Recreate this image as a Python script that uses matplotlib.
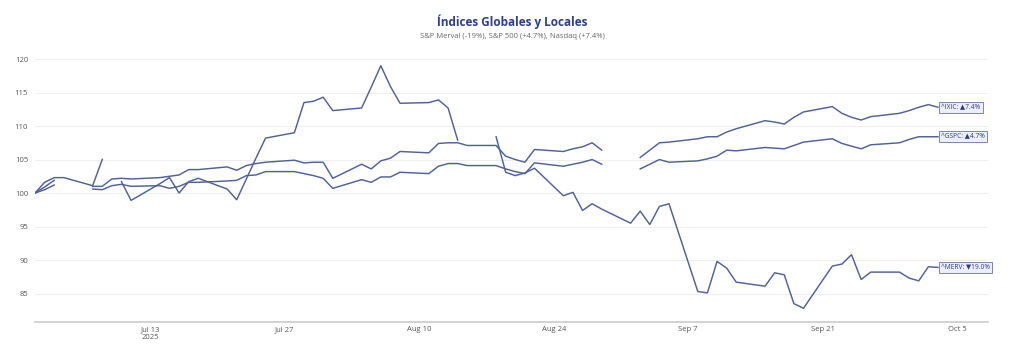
import pandas as pd
import matplotlib.pyplot as plt

plt.rcParams['font.family'] = ['Open Sans', 'DejaVu Sans']

# Daily closes rebased to 100 (weekdays Jul 1 - Oct 3, 2025), None = no trading
dates = pd.bdate_range('2025-07-01', '2025-10-03')

ixic = [100.0, 100.9, 101.9, None, 101.0, 101.0, 102.1, 102.2, 102.1, 102.3, 102.5, 102.7,
        103.5, 103.5, 103.9, 103.4, 104.1, 104.4, 104.6, 104.9, 104.5, 104.6, 104.6,
        102.2, 104.3, 103.6, 104.8, 105.2, 106.2, 106.0, 107.4, 107.5, 107.5, 107.1,
        107.1, 105.5, 105.0, 104.6, 106.5, 106.2, 106.6, 106.9, 107.5, 106.4,
        None, 105.3, 106.4, 107.5, 107.6, 108.1, 108.4, 108.4, 109.1, 109.6, 110.8,
        110.6, 110.3, 111.3, 112.1, 112.9, 111.9, 111.3, 110.9, 111.4, 111.9, 112.3,
        112.8, 113.2, 112.8]

gspc = [100.0, 100.5, 101.2, None, 100.6, 100.5, 101.1, 101.3, 101.0, 101.1, 100.7, 101.0,
        101.6, 101.6, 101.8, 101.9, 102.6, 102.7, 103.2, 103.2, 102.9, 102.6, 102.2,
        100.7, 102.0, 101.6, 102.4, 102.4, 103.1, 102.9, 104.0, 104.4, 104.4, 104.1,
        104.1, 103.6, 103.2, 102.9, 104.5, 104.0, 104.3, 104.6, 105.0, 104.3,
        None, 103.6, 104.3, 105.0, 104.6, 104.8, 105.1, 105.5, 106.4, 106.3, 106.8,
        106.7, 106.6, 107.1, 107.6, 108.1, 107.4, 107.0, 106.6, 107.2, 107.5, 108.0,
        108.4, 108.4, 108.4]

merv = [100.0, 101.6, 102.3, 102.3, 101.1, 105.0, None, 101.7, 98.9, 101.4, 102.3, 100.0,
        101.7, 102.2, 100.6, 99.0, 102.1, 105.2, 108.2, 109.0, 113.5, 113.7, 114.3,
        112.3, 112.7, 115.8, 119.0, 115.9, 113.4, 113.5, 113.9, 112.7, 107.9, None,
        108.4, 103.1, 102.6, 103.0, 103.7, 99.6, 100.1, 97.4, 98.4, 97.6,
        95.5, 97.3, 95.3, 98.0, 98.4, 85.3, 85.1, 89.8, 88.8, 86.7, 86.1,
        88.1, 87.8, 83.5, 82.8, 89.1, 89.4, 90.8, 87.1, 88.2, 88.2, 87.3,
        86.9, 89.0, 88.9]

labels = ['^IXIC: ▲7.4%', '^GSPC: ▲4.7%', '^MERV: ▼19.0%']
tick_dates = ['2025-07-13', '2025-07-27', '2025-08-10', '2025-08-24',
              '2025-09-07', '2025-09-21', '2025-10-05']
tick_labels = ['Jul 13\n2025', 'Jul 27', 'Aug 10', 'Aug 24', 'Sep 7', 'Sep 21', 'Oct 5']

df = pd.DataFrame({'ixic': ixic, 'gspc': gspc, 'merv': merv}, index=dates).astype(float)

line_color = '#4f6199'
fig = plt.figure(figsize=(10.24, 3.51), dpi=100)
ax = fig.add_axes([35 / 1024, 29.3 / 351, 953 / 1024, 0.777])

for col, lab in zip(['ixic', 'gspc', 'merv'], labels):
    ax.plot(df.index, df[col], color=line_color, lw=1.05)
    last = df[col].dropna()
    ax.annotate(lab, xy=(last.index[-1], last.iloc[-1]), xytext=(2.5, 0),
                textcoords='offset points', ha='left', va='center',
                fontsize=4.8, color='#2f3c8c',
                bbox=dict(boxstyle='square,pad=0.3', fc='#eceef9', ec='#6674ad', lw=0.6))

ax.set_xlim(pd.Timestamp('2025-07-01'), pd.Timestamp('2025-10-08 05:00'))
ax.set_ylim(80.8, 121.5)
ax.set_yticks([85, 90, 95, 100, 105, 110, 115, 120])
ax.set_xticks(pd.to_datetime(tick_dates))
ax.set_xticklabels(tick_labels, linespacing=1.3)
ax.tick_params(axis='both', length=0, labelsize=5.5, labelcolor='#555555')
ax.tick_params(axis='y', pad=5)
ax.tick_params(axis='x', pad=3)
ax.grid(axis='y', color='#eeeeee', lw=0.7)
ax.set_axisbelow(True)
for s in ['top', 'right', 'left']:
    ax.spines[s].set_visible(False)
ax.spines['bottom'].set_color('#cfcfcf')
ax.spines['bottom'].set_linewidth(1.3)

fig.text(0.5, 1 - 22 / 351, 'Índices Globales y Locales', ha='center', va='center',
         fontsize=8.5, fontweight='bold', color='#2c3e8c')
fig.text(0.5, 1 - 37 / 351, 'S&P Merval (-19%), S&P 500 (+4.7%), Nasdaq (+7.4%)',
         ha='center', va='center', fontsize=5.5, color='#666666')

fig.savefig('out.png', dpi=100, facecolor='white')
